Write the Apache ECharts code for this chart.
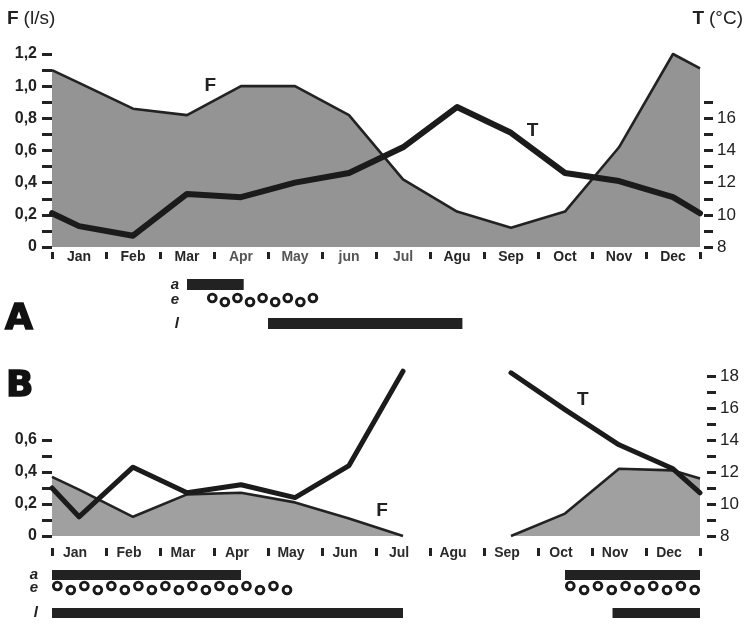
<!DOCTYPE html>
<html>
<head>
<meta charset="utf-8">
<script src="https://cdn.jsdelivr.net/npm/echarts@6/dist/echarts.min.js"></script>
<style>html,body{margin:0;padding:0;background:#fff}#c{width:745px;height:628px}</style>
</head>
<body>
<div id="c"></div>
<script>
// ---------- data ----------
const monthsA = ['Jan','Feb','Mar','Apr','May','jun','Jul','Agu','Sep','Oct','Nov','Dec'];
const monthsB = ['Jan','Feb','Mar','Apr','May','Jun','Jul','Agu','Sep','Oct','Nov','Dec'];
// x positions in months: year start, month middles, year end
const xPoints = [0, 0.5, 1.5, 2.5, 3.5, 4.5, 5.5, 6.5, 7.5, 8.5, 9.5, 10.5, 11.5, 12];
const flowA = [1.1, 1.02, 0.86, 0.82, 1.0, 1.0, 0.82, 0.42, 0.22, 0.12, 0.22, 0.62, 1.2, 1.11];
const tempA = [10.1, 9.3, 8.7, 11.3, 11.1, 12.0, 12.6, 14.2, 16.7, 15.1, 12.6, 12.1, 11.1, 10.1];
const flowB = [0.37, 0.29, 0.12, 0.26, 0.27, 0.21, 0.11, 0, null, 0, 0.14, 0.42, 0.41, 0.36];
const tempB = [11.0, 9.2, 12.3, 10.7, 11.2, 10.4, 12.4, 18.3, null, 18.2, 15.9, 13.7, 12.2, 10.7];
// tick / label values
const fTicksA = [0,0.1,0.2,0.3,0.4,0.5,0.6,0.7,0.8,0.9,1.0,1.1,1.2];
const fLabelsA = [0,0.2,0.4,0.6,0.8,1.0,1.2];
const tTicksA = [8,9,10,11,12,13,14,15,16,17];
const tLabelsA = [8,10,12,14,16];
const fTicksB = [0,0.1,0.2,0.3,0.4,0.5,0.6];
const fLabelsB = [0,0.2,0.4,0.6];
const tTicksB = [8,9,10,11,12,13,14,15,16,17,18];
const tLabelsB = [8,10,12,14,16,18];
// activity periods (in months from Jan 1)
const aPeriodA = [[2.5, 3.55]];
const ePeriodA = [[2.87, 4.93]];
const lPeriodA = [[4.0, 7.6]];
const aPeriodB = [[0, 3.5], [9.5, 12]];
const ePeriodB = [[0, 4.45], [9.5, 12]];
const lPeriodB = [[0, 6.5], [10.38, 12]];

// ---------- styling ----------
const FONT = '"Liberation Sans", Arial, sans-serif';
const INK = '#222';

const fmtF = v => (v === 0 ? '0' : v.toFixed(1).replace('.', ','));
const pairs = (xs, ys) => xs.map((x, i) => [x, ys[i]]);

function hiddenX(grid) {
  return {type: 'value', gridIndex: grid, min: 0, max: 12, show: false};
}
function monthAxis(grid, labels, offset, tickLen, pad, colorFn) {
  return {
    type: 'category', gridIndex: grid, data: labels, boundaryGap: true,
    position: 'bottom', offset: offset,
    axisLine: {show: false},
    axisTick: {show: true, interval: 0, length: tickLen, lineStyle: {color: INK, width: 3}},
    axisLabel: {interval: 0, margin: -2, color: colorFn || '#2a2a2a', fontFamily: FONT,
      fontWeight: 'bold', fontSize: 14, padding: pad},
    splitLine: {show: false}
  };
}
function leftAxis(grid, max, ticks, labels) {
  return {
    type: 'value', gridIndex: grid, position: 'left', min: 0, max: max, offset: 2,
    axisLine: {show: false},
    axisTick: {show: true, customValues: ticks, length: 10, lineStyle: {color: INK, width: 3}},
    axisLabel: {customValues: labels, margin: 13, formatter: fmtF, color: INK,
      fontFamily: FONT, fontWeight: 'bold', fontSize: 16},
    splitLine: {show: false}
  };
}
function rightAxis(grid, max, ticks, labels, offset) {
  return {
    type: 'value', gridIndex: grid, position: 'right', min: 8, max: max, offset: offset,
    axisLine: {show: false},
    axisTick: {show: true, customValues: ticks, length: 9, lineStyle: {color: INK, width: 3}},
    axisLabel: {customValues: labels, margin: 13, color: INK,
      fontFamily: FONT, fontSize: 17},
    splitLine: {show: false}
  };
}
function rowAxis(grid, letter, offset) {
  return {
    type: 'category', gridIndex: grid, data: [letter], offset: offset,
    axisLine: {show: false}, axisTick: {show: false},
    axisLabel: {margin: 4, color: INK, fontFamily: FONT, fontWeight: 'bold',
      fontStyle: 'italic', fontSize: 15},
    splitLine: {show: false}
  };
}

function barRender(params, api) {
  const a = api.coord([api.value(0), api.value(2)]);
  const b = api.coord([api.value(1), api.value(2)]);
  const cs = params.coordSys;
  return {type: 'rect', shape: {x: a[0], y: cs.y, width: b[0] - a[0], height: cs.height},
    style: {fill: INK}};
}
function circleRender(params, api) {
  const a = api.coord([api.value(0), api.value(2)]);
  const b = api.coord([api.value(1), api.value(2)]);
  const cs = params.coordSys;
  const r = 3.9, pad = 1.4;
  const span = b[0] - a[0] - 2 * r - 2 * pad;
  const n = Math.max(1, Math.round(span / 13.2));
  const cy = cs.y + cs.height / 2;
  const children = [];
  for (let i = 0; i <= n; i++) {
    children.push({
      type: 'circle',
      shape: {cx: a[0] + r + pad + i * span / n, cy: cy + (i % 2 === 0 ? -2.0 : 2.0), r: r},
      style: {fill: '#fff', stroke: '#1a1a1a', lineWidth: 2.9}
    });
  }
  return {type: 'group', children: children};
}
function periodSeries(kind, grid, letter, periods) {
  return {
    type: 'custom', xAxisIndex: grid, yAxisIndex: grid,
    renderItem: kind === 'e' ? circleRender : barRender,
    encode: {x: [0, 1], y: 2},
    data: periods.map(p => [p[0], p[1], letter]),
    silent: true
  };
}
function label(text, coord) {
  return {
    symbol: 'circle', symbolSize: 1, itemStyle: {color: 'rgba(0,0,0,0)'},
    label: {show: true, position: 'inside', formatter: text, color: INK,
      fontFamily: FONT, fontWeight: 'bold', fontSize: 19},
    data: [{coord: coord}]
  };
}

const grids = [
  {left: 52, right: 45, top: 54, height: 193},   // 0 panel A
  {left: 52, right: 45, top: 376, height: 160},  // 1 panel B
  {left: 52, right: 45, top: 279, height: 11},   // 2 A a
  {left: 52, right: 45, top: 295, height: 10},   // 3 A e
  {left: 52, right: 45, top: 318, height: 11},   // 4 A l
  {left: 52, right: 45, top: 570, height: 10},   // 5 B a
  {left: 52, right: 45, top: 583, height: 10},   // 6 B e
  {left: 52, right: 45, top: 608, height: 10}    // 7 B l
];

const lighter = (v, i) => (i >= 3 && i <= 6 ? '#555' : '#262626');

const xAxes = [hiddenX(0), hiddenX(1), hiddenX(2), hiddenX(3), hiddenX(4), hiddenX(5), hiddenX(6), hiddenX(7),
  monthAxis(0, monthsA, 5, 7, [0, 0, 0, 0], lighter),
  monthAxis(1, monthsB, 12, 8, [0, 8, 0, 0])];

const yAxes = [
  leftAxis(0, 1.2, fTicksA, fLabelsA),
  leftAxis(1, 1.0, fTicksB, fLabelsB),
  rowAxis(2, 'a', -131), rowAxis(3, 'e', -131), rowAxis(4, 'l', -131),
  rowAxis(5, 'a', 10), rowAxis(6, 'e', 10), rowAxis(7, 'l', 10),
  rightAxis(0, 20, tTicksA, tLabelsA, 4),
  rightAxis(1, 18, tTicksB, tLabelsB, 7)
];

const series = [
  {type: 'line', xAxisIndex: 0, yAxisIndex: 0, data: pairs(xPoints, flowA), symbol: 'none', clip: false,
   lineStyle: {color: INK, width: 2.6, join: 'round'}, areaStyle: {color: '#949494', opacity: 1}, z: 2,
   markPoint: label('F', [2.93, 1.0])},
  {type: 'line', xAxisIndex: 0, yAxisIndex: 8, data: pairs(xPoints, tempA), symbol: 'none', clip: false,
   lineStyle: {color: '#1b1b1b', width: 6, join: 'round', cap: 'round'}, z: 3,
   markPoint: label('T', [8.9, 15.25])},
  {type: 'line', xAxisIndex: 1, yAxisIndex: 1, data: pairs(xPoints, flowB), symbol: 'none', clip: false,
   connectNulls: false,
   lineStyle: {color: INK, width: 2.6, join: 'round'}, areaStyle: {color: '#a0a0a0', opacity: 1}, z: 2,
   markPoint: label('F', [6.11, 0.16])},
  {type: 'line', xAxisIndex: 1, yAxisIndex: 9, data: pairs(xPoints, tempB), symbol: 'none', clip: false,
   connectNulls: false,
   lineStyle: {color: '#1b1b1b', width: 5, join: 'round', cap: 'round'}, z: 3,
   markPoint: label('T', [9.83, 16.5])},
  periodSeries('a', 2, 'a', aPeriodA),
  periodSeries('e', 3, 'e', ePeriodA),
  periodSeries('l', 4, 'l', lPeriodA),
  periodSeries('a', 5, 'a', aPeriodB),
  periodSeries('e', 6, 'e', ePeriodB),
  periodSeries('l', 7, 'l', lPeriodB)
];

const richHead = {
  b: {fontFamily: FONT, fontWeight: 'bold', fontSize: 19, color: INK},
  n: {fontFamily: FONT, fontWeight: 'normal', fontSize: 19, color: INK}
};
const bigLetter = {fontFamily: '"DejaVu Sans", sans-serif', fontWeight: 'bold', fontSize: 36,
  color: '#111', textBorderColor: '#111', textBorderWidth: 1.5};

const chart = echarts.init(document.getElementById('c'), null, {renderer: 'canvas'});
chart.setOption({
  animation: false,
  backgroundColor: '#fff',
  title: [
    {text: '{b|F} {n|(l/s)}', left: 7, top: 9, padding: 0,
     textStyle: {fontWeight: 'normal', rich: richHead}},
    {text: '{b|T} {n|(°C)}', right: 2, top: 9, padding: 0,
     textStyle: {fontWeight: 'normal', rich: richHead}},
    {text: 'A', left: 5, top: 302, padding: 0, textStyle: bigLetter},
    {text: 'B', left: 6, top: 369, padding: 0, textStyle: bigLetter}
  ],
  grid: grids,
  xAxis: xAxes,
  yAxis: yAxes,
  series: series
});
</script>
</body>
</html>
